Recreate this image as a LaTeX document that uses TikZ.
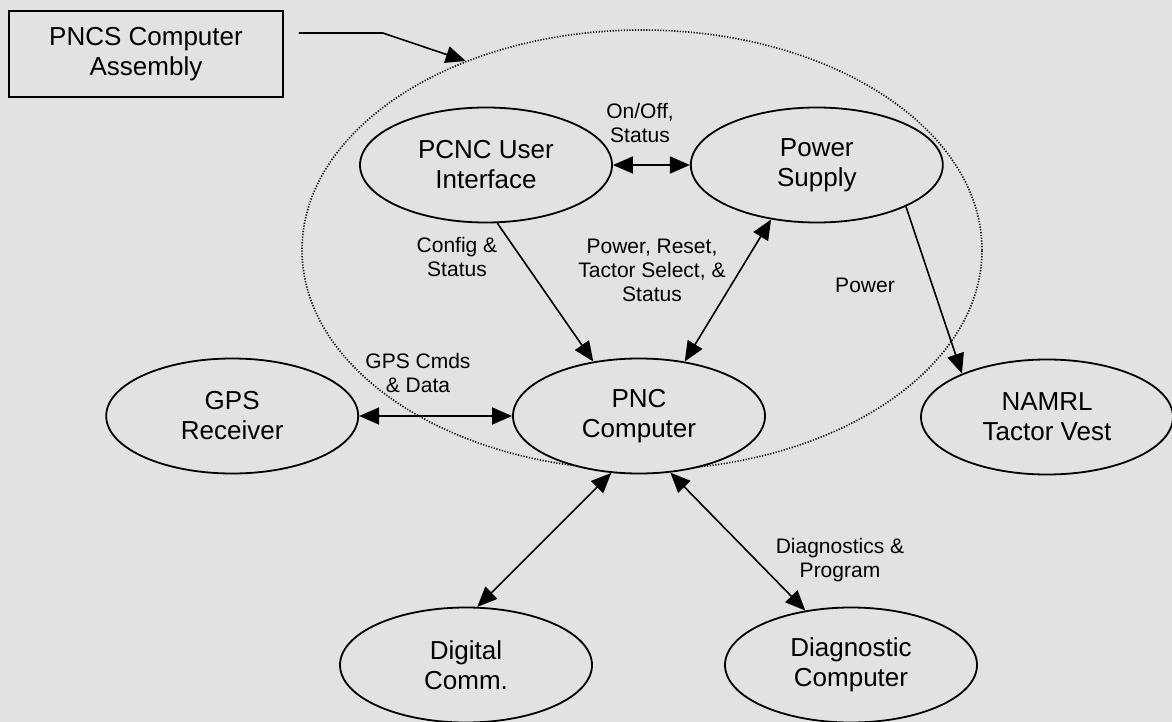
\documentclass[tikz,border=0pt]{standalone}
\usepackage{fontspec}
\setmainfont{Liberation Sans}
\usepackage{tikz}
\usetikzlibrary{shapes.geometric, arrows.meta, positioning}
\definecolor{paper}{RGB}{226,226,226}

\begin{document}
\begin{tikzpicture}[
        x=0.5pt, y=-0.5pt,
        node distance=38.5pt,
        unit/.style={ellipse, draw, line width=0.9pt, fill=paper, minimum width=126pt, minimum height=57.5pt, inner sep=0pt, align=center, font=\fontsize{13}{15}\selectfont},
        asm/.style={rectangle, draw, line width=0.8pt, minimum width=137pt, minimum height=43pt, align=center, font=\fontsize{13}{15}\selectfont},
        encl/.style={ellipse, draw, line width=0.8pt, dash pattern=on 0.6pt off 0.8pt, minimum width=340pt, minimum height=220pt, inner sep=0pt},
        arrow/.style={-{Triangle[length=10pt, width=8.5pt]}, line width=0.8pt},
        darrow/.style={{Triangle[length=10pt, width=8.5pt]}-{Triangle[length=10pt, width=8.5pt]}, line width=0.8pt},
        lbl/.style={align=center, font=\fontsize{10.5}{12}\selectfont}
    ]
        % Page
        \fill[paper] (0,0) rectangle (1172,722);
        \useasboundingbox (0,0) rectangle (1172,722);

        % Assembly boundary and its title box
        \node[encl] (assembly) at (642,250) {};
        \node[asm] (pncs) at (146,54) {PNCS Computer\\Assembly};

        % Row 1: User interface and power supply
        \node[unit] (pcnc) at (486,165) {PCNC User\\Interface};
        \node[unit, right=of pcnc] (power) {Power\\Supply};

        % Row 2: GPS, PNC computer, tactor vest
        \node[unit] (pnc) at (639,416) {PNC\\Computer};
        \node[unit, left=76.5pt of pnc] (gps) {GPS\\Receiver};
        \node[unit] (vest) at (1047,417) {NAMRL\\Tactor Vest};

        % Row 3: comm and diagnostics
        \node[unit] (comm) at (466,665) {Digital\\Comm.};
        \node[unit] (diag) at (851,665) {Diagnostic\\Computer};

        % Labels
        \node[lbl] (lonoff) at (640,123) {On/Off,\\Status};
        \node[lbl] (lconfig) at (457,257) {Config \&\\Status};
        \node[lbl] (lreset) at (652,270) {Power, Reset,\\Tactor Select, \&\\Status};
        \node[lbl] (lpower) at (865,285) {Power};
        \node[lbl] (lgps) at (418,373) {GPS Cmds\\\& Data};
        \node[lbl] (ldiag) at (840,560) {Diagnostics \&\\Program};

        % Arrows
        \draw[arrow] ([shift={(15,-21)}]pncs.east) -- ++(84,0) -- (assembly.133);
        \draw[darrow] (pcnc.east) -- (power.west);
        \draw[arrow] (pcnc.-79) -- (pnc.130);
        \draw[darrow] (pnc.50) -- (power.230);
        \draw[arrow] (power.-25) -- (vest.153);
        \draw[darrow] (gps.east) -- (pnc.west);
        \draw[darrow] (pnc.-116) -- (comm.79);
        \draw[darrow] (pnc.-61) -- (diag.130);

\end{tikzpicture}
\end{document}
